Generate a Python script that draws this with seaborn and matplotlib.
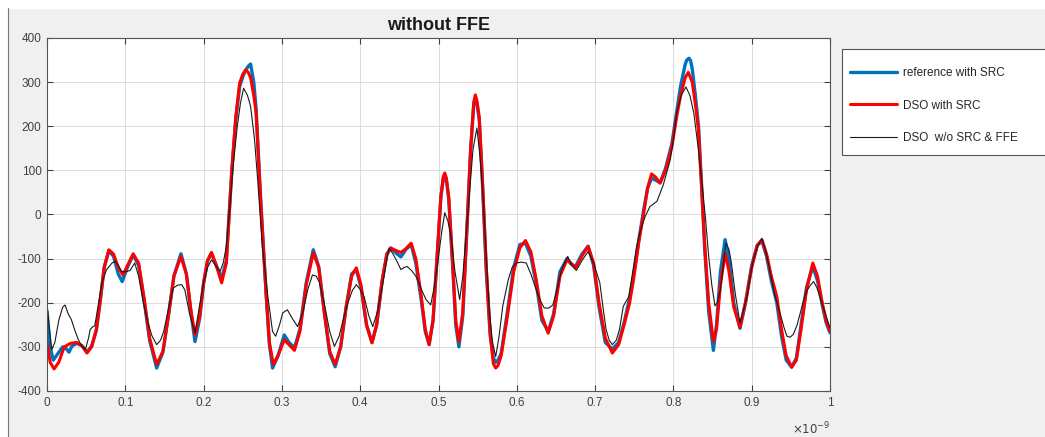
import numpy as np
import pandas as pd
import matplotlib
matplotlib.use("Agg")
import matplotlib.pyplot as plt
import seaborn as sns
from matplotlib.ticker import FuncFormatter, MultipleLocator

# --- datos (x en ns, y en unidades del DSO) ---
ref_x = [0.000, 0.004, 0.008, 0.014, 0.020, 0.025, 0.028, 0.032, 0.038, 0.045,
         0.051, 0.057, 0.063, 0.068, 0.073, 0.079, 0.085, 0.091, 0.096, 0.103,
         0.110, 0.117, 0.124, 0.131, 0.140, 0.148, 0.155, 0.162, 0.171, 0.178,
         0.184, 0.189, 0.195, 0.200, 0.205, 0.210, 0.216, 0.223, 0.229, 0.236,
         0.241, 0.246, 0.250, 0.253, 0.257, 0.260, 0.264, 0.267, 0.273, 0.280,
         0.284, 0.288, 0.295, 0.303, 0.309, 0.316, 0.323, 0.331, 0.340, 0.347,
         0.354, 0.361, 0.368, 0.375, 0.382, 0.389, 0.395, 0.401, 0.408, 0.415,
         0.421, 0.428, 0.434, 0.439, 0.446, 0.452, 0.458, 0.465, 0.471, 0.478,
         0.483, 0.488, 0.493, 0.498, 0.503, 0.506, 0.508, 0.510, 0.513, 0.518,
         0.522, 0.526, 0.531, 0.536, 0.541, 0.545, 0.547, 0.549, 0.552, 0.556,
         0.561, 0.566, 0.570, 0.573, 0.576, 0.580, 0.588, 0.596, 0.604, 0.611,
         0.618, 0.625, 0.632, 0.640, 0.647, 0.655, 0.664, 0.669, 0.675, 0.683,
         0.691, 0.698, 0.705, 0.713, 0.722, 0.730, 0.737, 0.744, 0.749, 0.756,
         0.762, 0.767, 0.772, 0.777, 0.783, 0.790, 0.798, 0.804, 0.809, 0.815,
         0.817, 0.820, 0.822, 0.824, 0.828, 0.832, 0.836, 0.840, 0.845, 0.851,
         0.855, 0.860, 0.866, 0.871, 0.877, 0.885, 0.892, 0.900, 0.907, 0.913,
         0.919, 0.925, 0.932, 0.938, 0.944, 0.951, 0.957, 0.963, 0.970, 0.978,
         0.984, 0.990, 0.995, 1.000]
ref_y = [-220, -300, -330, -315, -300, -305, -312, -298, -292, -298,
         -312, -298, -262, -195, -120, -82, -95, -135, -152, -118,
         -92, -115, -195, -285, -348, -312, -230, -140, -89, -135,
         -225, -288, -235, -155, -105, -88, -115, -145, -105, 100,
         215, 290, 312, 325, 336, 341, 300, 240, 30, -186,
         -295, -348, -320, -273, -290, -302, -260, -155, -80, -118,
         -220, -315, -345, -300, -210, -135, -125, -165, -250, -290,
         -250, -150, -90, -76, -88, -96, -80, -68, -110, -195,
         -265, -295, -240, -100, 40, 80, 90, 78, 35, -115,
         -250, -300, -230, -40, 145, 250, 265, 252, 215, 75,
         -130, -275, -325, -335, -330, -315, -220, -120, -68, -65,
         -95, -160, -240, -265, -225, -130, -100, -112, -118, -90,
         -72, -115, -210, -290, -305, -290, -245, -190, -140, -55,
         10, 60, 82, 78, 72, 105, 160, 230, 290, 340,
         350, 354, 348, 330, 270, 200, 65, -80, -220, -308,
         -250, -130, -57, -100, -200, -258, -200, -115, -70, -60,
         -95, -150, -200, -275, -330, -346, -325, -250, -165, -118,
         -150, -205, -245, -268]

dso_x = [0.000, 0.004, 0.009, 0.015, 0.022, 0.030, 0.038, 0.045, 0.051, 0.057,
         0.063, 0.068, 0.073, 0.079, 0.085, 0.091, 0.097, 0.103, 0.110, 0.117,
         0.124, 0.131, 0.140, 0.148, 0.155, 0.162, 0.171, 0.178, 0.184, 0.189,
         0.195, 0.200, 0.205, 0.210, 0.216, 0.223, 0.229, 0.236, 0.241, 0.246,
         0.250, 0.254, 0.257, 0.260, 0.264, 0.267, 0.273, 0.280, 0.284, 0.289,
         0.295, 0.303, 0.309, 0.316, 0.323, 0.331, 0.340, 0.347, 0.354, 0.361,
         0.368, 0.375, 0.382, 0.389, 0.395, 0.401, 0.408, 0.415, 0.421, 0.428,
         0.434, 0.439, 0.446, 0.452, 0.458, 0.465, 0.471, 0.478, 0.483, 0.488,
         0.493, 0.498, 0.503, 0.506, 0.508, 0.510, 0.513, 0.518, 0.522, 0.526,
         0.531, 0.536, 0.541, 0.545, 0.547, 0.549, 0.552, 0.556, 0.561, 0.566,
         0.570, 0.573, 0.576, 0.580, 0.588, 0.596, 0.604, 0.611, 0.618, 0.625,
         0.632, 0.640, 0.647, 0.655, 0.664, 0.669, 0.675, 0.683, 0.691, 0.698,
         0.705, 0.713, 0.722, 0.730, 0.737, 0.744, 0.749, 0.756, 0.762, 0.767,
         0.772, 0.777, 0.783, 0.790, 0.798, 0.804, 0.809, 0.815, 0.819, 0.824,
         0.828, 0.832, 0.836, 0.840, 0.845, 0.851, 0.855, 0.860, 0.866, 0.871,
         0.877, 0.885, 0.892, 0.900, 0.907, 0.913, 0.919, 0.925, 0.932, 0.938,
         0.944, 0.951, 0.957, 0.963, 0.970, 0.978, 0.984, 0.990, 0.995, 1.000]
dso_y = [-290, -335, -350, -335, -300, -292, -290, -298, -314, -300,
         -261, -195, -120, -80, -90, -120, -137, -115, -89, -110,
         -190, -280, -340, -310, -230, -140, -95, -135, -220, -273,
         -230, -155, -105, -86, -115, -155, -110, 100, 220, 298,
         318, 328, 322, 310, 270, 230, 25, -186, -290, -340,
         -320, -284, -295, -308, -265, -160, -87, -120, -220, -310,
         -340, -300, -210, -140, -121, -160, -250, -291, -250, -150,
         -90, -76, -82, -86, -78, -65, -100, -186, -260, -295,
         -240, -100, 40, 85, 94, 82, 40, -110, -240, -288,
         -220, -40, 150, 255, 271, 258, 220, 80, -120, -270,
         -338, -348, -342, -320, -230, -130, -75, -59, -85, -150,
         -230, -269, -230, -140, -103, -110, -121, -95, -72, -110,
         -200, -280, -314, -295, -250, -201, -148, -60, 3, 60,
         92, 85, 71, 100, 154, 220, 268, 310, 322, 300,
         250, 192, 60, -72, -200, -288, -260, -160, -87, -130,
         -210, -256, -200, -120, -70, -57, -90, -140, -186, -260,
         -320, -346, -330, -260, -170, -110, -140, -200, -240, -265]

raw_x = [0.000, 0.003, 0.006, 0.010, 0.015, 0.020, 0.023, 0.027, 0.031, 0.036, 0.040, 0.045, 0.049, 0.053,
         0.055, 0.058, 0.061, 0.065, 0.070, 0.076, 0.083, 0.087, 0.091, 0.095, 0.100, 0.106, 0.112, 0.117,
         0.123, 0.129, 0.134, 0.140, 0.145, 0.149, 0.155, 0.161, 0.167, 0.172, 0.176, 0.182, 0.189, 0.194,
         0.200, 0.205, 0.210, 0.215, 0.221, 0.225, 0.229, 0.234, 0.238, 0.243, 0.247, 0.251, 0.256, 0.260,
         0.265, 0.269, 0.275, 0.282, 0.288, 0.292, 0.297, 0.301, 0.307, 0.313, 0.320, 0.327, 0.333, 0.339,
         0.344, 0.348, 0.355, 0.361, 0.367, 0.373, 0.378, 0.384, 0.390, 0.395, 0.400, 0.405, 0.411, 0.416,
         0.422, 0.429, 0.433, 0.437, 0.442, 0.446, 0.452, 0.456, 0.460, 0.466, 0.471, 0.477, 0.484, 0.490,
         0.495, 0.499, 0.504, 0.508, 0.512, 0.516, 0.521, 0.527, 0.531, 0.535, 0.540, 0.544, 0.549, 0.553,
         0.557, 0.561, 0.565, 0.569, 0.573, 0.577, 0.582, 0.589, 0.594, 0.599, 0.606, 0.612, 0.618, 0.624,
         0.630, 0.635, 0.641, 0.646, 0.652, 0.657, 0.665, 0.670, 0.676, 0.683, 0.691, 0.698, 0.706, 0.710,
         0.714, 0.718, 0.722, 0.727, 0.731, 0.736, 0.743, 0.748, 0.753, 0.758, 0.764, 0.770, 0.779, 0.787,
         0.796, 0.800, 0.804, 0.810, 0.816, 0.821, 0.826, 0.831, 0.836, 0.841, 0.845, 0.849, 0.853, 0.856,
         0.860, 0.864, 0.867, 0.871, 0.874, 0.879, 0.885, 0.889, 0.894, 0.898, 0.902, 0.908, 0.913, 0.918,
         0.923, 0.929, 0.936, 0.941, 0.945, 0.949, 0.953, 0.958, 0.962, 0.966, 0.970, 0.975, 0.979, 0.983,
         0.987, 0.993, 1.000]
raw_y = [-201, -260, -306, -290, -240, -210, -205, -225, -238, -265, -284, -300, -306, -280,
         -261, -255, -252, -210, -155, -125, -110, -106, -115, -129, -130, -127, -110, -140,
         -200, -246, -275, -295, -285, -265, -215, -167, -160, -159, -171, -225, -269, -215,
         -155, -120, -103, -115, -129, -110, -72, 30, 115, 200, 252, 286, 270, 245,
         170, 79, -72, -186, -265, -276, -250, -223, -216, -235, -254, -220, -170, -137,
         -140, -155, -210, -265, -299, -276, -240, -201, -172, -159, -170, -186, -230, -254,
         -220, -155, -110, -76, -90, -103, -125, -120, -118, -128, -140, -165, -193, -205,
         -160, -110, -40, 4, -15, -50, -130, -193, -140, -50, 60, 147, 196, 130,
         40, -100, -223, -290, -322, -280, -208, -148, -120, -110, -108, -110, -135, -167,
         -195, -212, -212, -205, -165, -125, -95, -115, -127, -105, -84, -110, -155, -210,
         -261, -285, -295, -285, -261, -208, -186, -130, -72, -35, -4, 18, 30, 67,
         124, 170, 230, 270, 289, 270, 230, 160, 79, -10, -95, -160, -207, -200,
         -171, -110, -65, -80, -110, -180, -246, -220, -186, -140, -103, -70, -54, -85,
         -125, -180, -223, -255, -276, -278, -272, -250, -223, -195, -174, -160, -152, -165,
         -186, -220, -257]

labels = ["reference with SRC", "DSO with SRC", "DSO  w/o SRC & FFE"]

ref = pd.DataFrame({"t": np.array(ref_x) * 1e-9, "v": ref_y})
dso = pd.DataFrame({"t": np.array(dso_x) * 1e-9, "v": dso_y})
raw = pd.DataFrame({"t": np.array(raw_x) * 1e-9, "v": raw_y})

# --- estilo tipo MATLAB ---
sns.set_style("white")
plt.rcParams["font.family"] = ["Liberation Sans", "DejaVu Sans"]
plt.rcParams["lines.solid_joinstyle"] = "round"

fig = plt.figure(figsize=(10.45, 4.37), dpi=100, facecolor="#f0f0f0")
ax = fig.add_axes([0.045, 0.1053, 0.7493, 0.8078])
ax.set_facecolor("white")

sns.lineplot(data=ref, x="t", y="v", ax=ax, color="#0072BD", linewidth=2.4, label=labels[0], sort=False)
sns.lineplot(data=dso, x="t", y="v", ax=ax, color="#ff0000", linewidth=2.2, label=labels[1], sort=False)
sns.lineplot(data=raw, x="t", y="v", ax=ax, color="#1a1a1a", linewidth=0.8, label=labels[2], sort=False)

ax.set_xlim(0, 1e-9)
ax.set_ylim(-400, 400)
ax.xaxis.set_major_locator(MultipleLocator(1e-10))
ax.yaxis.set_major_locator(MultipleLocator(100))
ax.xaxis.set_major_formatter(FuncFormatter(lambda v, _: f"{round(v * 1e9, 2):g}"))
ax.yaxis.set_major_formatter(FuncFormatter(lambda v, _: f"{int(v)}"))
ax.set_xlabel("")
ax.set_ylabel("")
ax.grid(True, color="#dcdcdc", linewidth=0.7)
ax.set_axisbelow(True)
ax.tick_params(direction="in", length=4, width=0.8, color="#404040", labelcolor="#404040",
               labelsize=8.5, top=True, right=True, bottom=True, left=True, pad=4)
for s in ax.spines.values():
    s.set_color("#555555")
    s.set_linewidth(0.8)

ax.set_title("without FFE", fontsize=13, fontweight="bold", color="#1a1a1a", pad=6)
ax.text(1.0, -0.085, r"$\times 10^{-9}$", transform=ax.transAxes, ha="right", va="top",
        fontsize=8.5, color="#404040")

# leyenda fuera del eje: marco dibujado aparte, entradas sin marco
ax.get_legend().remove()
h, l = ax.get_legend_handles_labels()
fig.patches.append(plt.Rectangle((0.8057, 0.6453), 0.21, 0.2426, transform=fig.transFigure,
                                 facecolor="white", edgecolor="#555555", linewidth=0.8, zorder=1))
leg = fig.legend(h, l, loc="upper left", bbox_to_anchor=(0.8134, 0.847), borderaxespad=0, borderpad=0,
                 fontsize=8.5, handlelength=4.0, labelspacing=1.75, handletextpad=0.5, frameon=False)

# borde blanco de la captura
fig.patches.append(plt.Rectangle((0, 0.982), 1, 0.02, transform=fig.transFigure, color="white", zorder=-1))
fig.patches.append(plt.Rectangle((0, 0), 0.007, 1, transform=fig.transFigure, color="white", zorder=-1))
fig.add_artist(plt.Line2D([0.008, 0.008], [0, 0.982], transform=fig.transFigure, color="#777777", linewidth=0.8))

fig.savefig("out.png", dpi=100, facecolor=fig.get_facecolor())
